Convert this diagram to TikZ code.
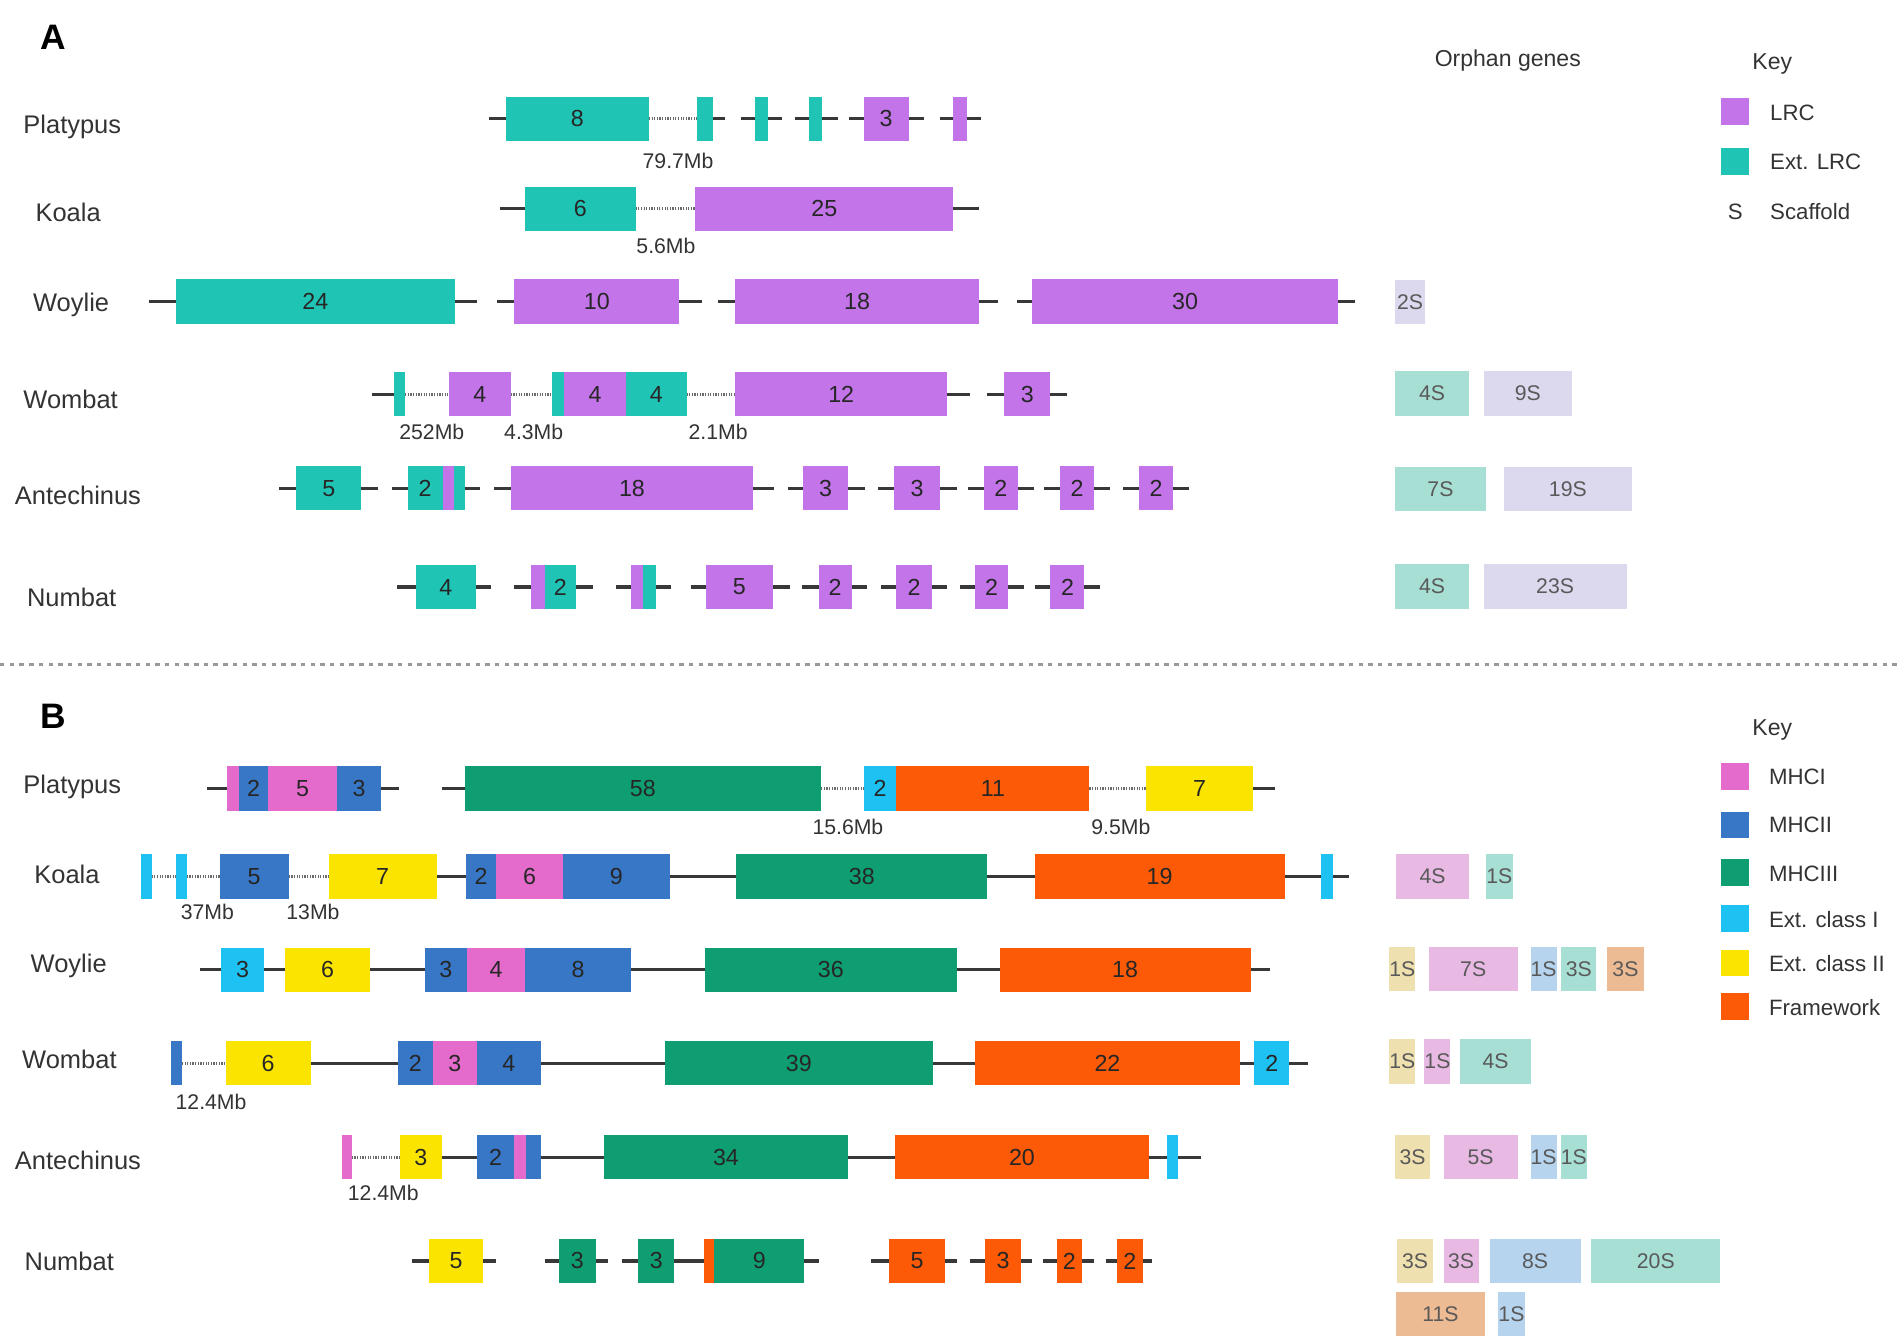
\documentclass[tikz,border=0pt]{standalone}
\usepackage{fontspec}
\setmainfont{Liberation Sans}
\definecolor{lrc}{HTML}{C274E8}
\definecolor{extlrc}{HTML}{1FC4B4}
\definecolor{mhci}{HTML}{E46BCB}
\definecolor{mhcii}{HTML}{3777C6}
\definecolor{mhciii}{HTML}{0E9E72}
\definecolor{extI}{HTML}{1DC2F2}
\definecolor{extII}{HTML}{FBE500}
\definecolor{frame}{HTML}{FC5A06}
\definecolor{oLav}{HTML}{DCD9EE}
\definecolor{oTeal}{HTML}{A7DFD4}
\definecolor{oPink}{HTML}{E8B9E3}
\definecolor{oTan}{HTML}{EFE0B0}
\definecolor{oBlue}{HTML}{B7D4EF}
\definecolor{oPeach}{HTML}{EDBB93}
\definecolor{ink}{HTML}{333333}
\newcommand\gn[6]{%
  \pgfmathsetmacro\gnw{(#4-#3)*0.6}%
  \pgfmathsetmacro\gnx{(#3+#4)/2}%
  \node[gene,fill=#2,minimum width=\gnw pt] (#1) at (\gnx,#5) {#6};}
\newcommand\orph[6]{%
  \pgfmathsetmacro\gnw{(#4-#3)*0.6}%
  \pgfmathsetmacro\gnx{(#3+#4)/2}%
  \node[orphbox,fill=#2,minimum width=\gnw pt] (#1) at (\gnx,#5) {#6};}
\newcommand\swatch[3]{\node[swbox,fill=#2] (#1) at (1430,#3) {};}
\newcommand\stL[2]{\draw[chr] (#1.west) -- ++(-#2,0);}
\newcommand\stR[2]{\draw[chr] (#1.east) -- ++(#2,0);}
\newcommand\jn[2]{\draw[chr] (#1.east) -- (#2.west);}
\newcommand\gp[2]{\draw[gapln] (#1.east) -- (#2.west);}
\begin{document}
\begin{tikzpicture}[x=0.6pt,y=-0.6pt,
  gene/.style={draw=none,inner sep=0pt,outer sep=0pt,minimum height=21.9pt,
    font=\fontsize{11.5}{11.5}\selectfont,text=black!85},
  orphbox/.style={draw=none,inner sep=0pt,outer sep=0pt,minimum height=21.9pt,
    font=\fontsize{10.5}{11}\selectfont,text=black!65},
  swbox/.style={draw=none,inner sep=0pt,outer sep=0pt,minimum width=13.8pt,minimum height=13.2pt},
  chr/.style={draw=black!78,line width=1.6pt},
  gapln/.style={draw=black!58,line width=1.6pt,dash pattern=on 0.6pt off 0.7pt},
  species/.style={font=\fontsize{12.6}{13}\selectfont,text=ink,anchor=base west,inner sep=0pt},
  mb/.style={font=\fontsize{10.5}{11}\selectfont,text=ink,inner sep=0pt},
  keytxt/.style={font=\fontsize{11}{12}\selectfont,text=ink,anchor=base west,inner sep=0pt},
  head/.style={font=\fontsize{11.4}{12}\selectfont,text=ink,anchor=base,inner sep=0pt},
  panel/.style={font=\fontsize{17.5}{18}\selectfont\bfseries,text=black,anchor=base west,inner sep=0pt},
  sep/.style={draw=black!40,line width=1.3pt,dash pattern=on 2.2pt off 2.6pt}]
\path[use as bounding box] (0,0) rectangle (1568,1101);

% ---------------- Panel A ----------------
\node[panel] (pA) at (33,41) {A};
\node[head] (orphA) at (1243,55) {Orphan genes};
\node[head] (keyA) at (1461,57) {Key};
\swatch{kLRC}{lrc}{92}
\swatch{kExtLRC}{extlrc}{133}
\node[keytxt] (tLRC) at (1459,99.5) {LRC};
\node[keytxt] (tExtLRC) at (1459,140) {Ext. LRC};
\node[keytxt] (tS) at (1424,181) {S};
\node[keytxt] (tScaf) at (1459,181) {Scaffold};

\node[species] (sA1) at (19,110) {Platypus};
\node[species] (sA2) at (29,183) {Koala};
\node[species] (sA3) at (27,257) {Woylie};
\node[species] (sA4) at (19,337) {Wombat};
\node[species] (sA5) at (12,416) {Antechinus};
\node[species] (sA6) at (22,500) {Numbat};

% Platypus A
\gn{aP8}{extlrc}{417}{535}{98}{8}
\gn{aPt1}{extlrc}{575}{588}{98}{}
\gn{aPt2}{extlrc}{622}{633}{98}{}
\gn{aPt3}{extlrc}{667}{678}{98}{}
\gn{aP3}{lrc}{712}{749}{98}{3}
\gn{aPp}{lrc}{786}{797}{98}{}
\stL{aP8}{14}\gp{aP8}{aPt1}\stR{aPt1}{10}
\stL{aPt2}{11}\stR{aPt2}{12}
\stL{aPt3}{12}\stR{aPt3}{13}
\stL{aP3}{12}\stR{aP3}{13}
\stL{aPp}{11}\stR{aPp}{12}
\node[mb] (mbA1) at (559,133) {79.7Mb};

% Koala A
\gn{aK6}{extlrc}{433}{524}{172}{6}
\gn{aK25}{lrc}{573}{786}{172}{25}
\stL{aK6}{21}\gp{aK6}{aK25}\stR{aK25}{21}
\node[mb] (mbA2) at (549,203) {5.6Mb};

% Woylie A
\gn{aW24}{extlrc}{145}{375}{248.5}{24}
\gn{aW10}{lrc}{424}{560}{248.5}{10}
\gn{aW18}{lrc}{606}{807}{248.5}{18}
\gn{aW30}{lrc}{851}{1103}{248.5}{30}
\stL{aW24}{22}\stR{aW24}{18}
\stL{aW10}{14}\stR{aW10}{19}
\stL{aW18}{14}\stR{aW18}{16}
\stL{aW30}{13}\stR{aW30}{14}
\orph{aWo1}{oLav}{1150}{1175}{249}{2S}

% Wombat A
\gn{aMt1}{extlrc}{325}{334}{325}{}
\gn{aM4}{lrc}{370}{421}{325}{4}
\gn{aMt2}{extlrc}{455}{465}{325}{}
\gn{aMp4}{lrc}{465}{516}{325}{4}
\gn{aMt4}{extlrc}{516}{566}{325}{4}
\gn{aM12}{lrc}{606}{781}{325}{12}
\gn{aM3}{lrc}{828}{866}{325}{3}
\stL{aMt1}{18}\gp{aMt1}{aM4}\gp{aM4}{aMt2}\gp{aMt4}{aM12}\stR{aM12}{19}
\stL{aM3}{14}\stR{aM3}{14}
\node[mb] (mbA3) at (356,356) {252Mb};
\node[mb] (mbA4) at (440,356) {4.3Mb};
\node[mb] (mbA5) at (592,356) {2.1Mb};
\orph{aMo1}{oTeal}{1150}{1211}{324.5}{4S}
\orph{aMo2}{oLav}{1223}{1296}{324.5}{9S}

% Antechinus A
\gn{aA5}{extlrc}{244}{298}{402.5}{5}
\gn{aA2}{extlrc}{336}{365}{402.5}{2}
\gn{aA2p}{lrc}{365}{374}{402.5}{}
\gn{aA2t}{extlrc}{374}{383}{402.5}{}
\gn{aA18}{lrc}{421}{621}{402.5}{18}
\gn{aA3a}{lrc}{662}{699}{402.5}{3}
\gn{aA3b}{lrc}{737}{775}{402.5}{3}
\gn{aA2a}{lrc}{811}{839}{402.5}{2}
\gn{aA2b}{lrc}{874}{902}{402.5}{2}
\gn{aA2c}{lrc}{939}{967}{402.5}{2}
\stL{aA5}{14}\stR{aA5}{14}
\stL{aA2}{13}\stR{aA2t}{13}
\stL{aA18}{14}\stR{aA18}{17}
\stL{aA3a}{12}\stR{aA3a}{14}
\stL{aA3b}{13}\stR{aA3b}{14}
\stL{aA2a}{13}\stR{aA2a}{13}
\stL{aA2b}{13}\stR{aA2b}{13}
\stL{aA2c}{13}\stR{aA2c}{13}
\orph{aAo1}{oTeal}{1150}{1225}{403}{7S}
\orph{aAo2}{oLav}{1240}{1345}{403}{19S}

% Numbat A
\gn{aN4}{extlrc}{343}{392}{484}{4}
\gn{aNp}{lrc}{438}{449}{484}{}
\gn{aNt}{extlrc}{449}{475}{484}{2}
\gn{aNp2}{lrc}{520}{530}{484}{}
\gn{aNt2}{extlrc}{530}{541}{484}{}
\gn{aN5}{lrc}{582}{637}{484}{5}
\gn{aN2a}{lrc}{675}{702}{484}{2}
\gn{aN2b}{lrc}{739}{768}{484}{2}
\gn{aN2c}{lrc}{804}{831}{484}{2}
\gn{aN2d}{lrc}{866}{894}{484}{2}
\stL{aN4}{16}\stR{aN4}{13}
\stL{aNp}{14}\stR{aNt}{14}
\stL{aNp2}{12}\stR{aNt2}{12}
\stL{aN5}{12}\stR{aN5}{14}
\stL{aN2a}{14}\stR{aN2a}{13}
\stL{aN2b}{13}\stR{aN2b}{13}
\stL{aN2c}{13}\stR{aN2c}{13}
\stL{aN2d}{13}\stR{aN2d}{13}
\orph{aNo1}{oTeal}{1150}{1211}{483.5}{4S}
\orph{aNo2}{oLav}{1223}{1341}{483.5}{23S}

% separator
\coordinate (sepL) at (0,548);
\coordinate (sepR) at (1568,548);
\draw[sep] (sepL) -- (sepR);

% ---------------- Panel B ----------------
\node[panel] (pB) at (33,600.5) {B};
\node[head] (keyB) at (1461,606) {Key};
\swatch{kI}{mhci}{640}
\swatch{kII}{mhcii}{680}
\swatch{kIII}{mhciii}{719.5}
\swatch{kEI}{extI}{757}
\swatch{kEII}{extII}{794}
\swatch{kFW}{frame}{830}
\node[keytxt] (tI) at (1458,646.5) {MHCI};
\node[keytxt] (tII) at (1458,686.5) {MHCII};
\node[keytxt] (tIII) at (1458,726.5) {MHCIII};
\node[keytxt] (tEI) at (1458,764.5) {Ext. class I};
\node[keytxt] (tEII) at (1458,800.5) {Ext. class II};
\node[keytxt] (tFW) at (1458,837.5) {Framework};

\node[species] (sB1) at (19,654.3) {Platypus};
\node[species] (sB2) at (28,728.5) {Koala};
\node[species] (sB3) at (25,801.5) {Woylie};
\node[species] (sB4) at (18,881) {Wombat};
\node[species] (sB5) at (12,964.5) {Antechinus};
\node[species] (sB6) at (20,1047.5) {Numbat};

% Platypus B
\gn{bPp}{mhci}{187}{197}{650}{}
\gn{bP2}{mhcii}{197}{221}{650}{2}
\gn{bP5}{mhci}{221}{278}{650}{5}
\gn{bP3}{mhcii}{278}{314}{650}{3}
\gn{bP58}{mhciii}{383}{677}{650}{58}
\gn{bPc}{extI}{712}{739}{650}{2}
\gn{bP11}{frame}{739}{898}{650}{11}
\gn{bP7}{extII}{945}{1033}{650}{7}
\stL{bPp}{16}\stR{bP3}{15}
\stL{bP58}{19}\gp{bP58}{bPc}\gp{bP11}{bP7}\stR{bP7}{18}
\node[mb] (mbB1) at (699,682) {15.6Mb};
\node[mb] (mbB2) at (924,682) {9.5Mb};

% Koala B
\gn{bKc1}{extI}{116}{125}{722.5}{}
\gn{bKc2}{extI}{145}{154}{722.5}{}
\gn{bK5}{mhcii}{181}{238}{722.5}{5}
\gn{bK7}{extII}{271}{360}{722.5}{7}
\gn{bK2}{mhcii}{384}{409}{722.5}{2}
\gn{bK6}{mhci}{409}{464}{722.5}{6}
\gn{bK9}{mhcii}{464}{552}{722.5}{9}
\gn{bK38}{mhciii}{607}{814}{722.5}{38}
\gn{bK19}{frame}{853}{1059}{722.5}{19}
\gn{bKc3}{extI}{1089}{1099}{722.5}{}
\gp{bKc1}{bKc2}\gp{bKc2}{bK5}\gp{bK5}{bK7}\jn{bK7}{bK2}
\jn{bK9}{bK38}\jn{bK38}{bK19}\jn{bK19}{bKc3}\stR{bKc3}{13}
\node[mb] (mbB3) at (171,752) {37Mb};
\node[mb] (mbB4) at (258,752) {13Mb};
\orph{bKo1}{oPink}{1151}{1211}{722.5}{4S}
\orph{bKo2}{oTeal}{1225}{1247}{722.5}{1S}

% Woylie B
\gn{bWc3}{extI}{182}{218}{799.5}{3}
\gn{bW6}{extII}{235}{305}{799.5}{6}
\gn{bW3}{mhcii}{350}{385}{799.5}{3}
\gn{bW4}{mhci}{385}{433}{799.5}{4}
\gn{bW8}{mhcii}{433}{520}{799.5}{8}
\gn{bW36}{mhciii}{581}{789}{799.5}{36}
\gn{bW18}{frame}{824}{1031}{799.5}{18}
\stL{bWc3}{17}\jn{bWc3}{bW6}\jn{bW6}{bW3}\jn{bW8}{bW36}\jn{bW36}{bW18}\stR{bW18}{16}
\orph{bWo1}{oTan}{1146}{1166}{799}{1S}
\orph{bWo2}{oPink}{1178}{1251}{799}{7S}
\orph{bWo3}{oBlue}{1262}{1283}{799}{1S}
\orph{bWo4}{oTeal}{1287}{1316}{799}{3S}
\orph{bWo5}{oPeach}{1325}{1355}{799}{3S}

% Wombat B
\gn{bMb}{mhcii}{141}{150}{876.5}{}
\gn{bM6}{extII}{186}{256}{876.5}{6}
\gn{bM2}{mhcii}{328}{357}{876.5}{2}
\gn{bM3}{mhci}{357}{393}{876.5}{3}
\gn{bM4}{mhcii}{393}{446}{876.5}{4}
\gn{bM39}{mhciii}{548}{769}{876.5}{39}
\gn{bM22}{frame}{804}{1022}{876.5}{22}
\gn{bMc}{extI}{1034}{1063}{876.5}{2}
\gp{bMb}{bM6}\jn{bM6}{bM2}\jn{bM4}{bM39}\jn{bM39}{bM22}\jn{bM22}{bMc}\stR{bMc}{15}
\node[mb] (mbB5) at (174,908) {12.4Mb};
\orph{bMo1}{oTan}{1146}{1166}{875}{1S}
\orph{bMo2}{oPink}{1175}{1195}{875}{1S}
\orph{bMo3}{oTeal}{1204}{1262}{875}{4S}

% Antechinus B
\gn{bAp}{mhci}{282}{290}{954}{}
\gn{bA3}{extII}{330}{364}{954}{3}
\gn{bA2}{mhcii}{393}{424}{954}{2}
\gn{bApp}{mhci}{424}{434}{954}{}
\gn{bAb}{mhcii}{434}{446}{954}{}
\gn{bA34}{mhciii}{498}{699}{954}{34}
\gn{bA20}{frame}{738}{947}{954}{20}
\gn{bAc}{extI}{962}{971}{954}{}
\gp{bAp}{bA3}\jn{bA3}{bA2}\jn{bAb}{bA34}\jn{bA34}{bA20}\jn{bA20}{bAc}\stR{bAc}{19}
\node[mb] (mbB6) at (316,983.5) {12.4Mb};
\orph{bAo1}{oTan}{1150}{1179}{954}{3S}
\orph{bAo2}{oPink}{1190}{1251}{954}{5S}
\orph{bAo3}{oBlue}{1262}{1283}{954}{1S}
\orph{bAo4}{oTeal}{1287}{1308}{954}{1S}

% Numbat B
\gn{bN5}{extII}{354}{398}{1039.5}{5}
\gn{bN3a}{mhciii}{461}{491}{1039.5}{3}
\gn{bN3b}{mhciii}{526}{556}{1039.5}{3}
\gn{bNo}{frame}{580}{589}{1039.5}{}
\gn{bN9}{mhciii}{589}{663}{1039.5}{9}
\gn{bN5o}{frame}{733}{779}{1039.5}{5}
\gn{bN3o}{frame}{812}{842}{1039.5}{3}
\gn{bN2a}{frame}{871}{892}{1039.5}{2}
\gn{bN2b}{frame}{921}{942}{1039.5}{2}
\stL{bN5}{14}\stR{bN5}{11}
\stL{bN3a}{12}\stR{bN3a}{10}
\stL{bN3b}{13}\jn{bN3b}{bNo}\stR{bN9}{12}
\stL{bN5o}{15}\stR{bN5o}{10}
\stL{bN3o}{12}\stR{bN3o}{9}
\stL{bN2a}{11}\stR{bN2a}{10}
\stL{bN2b}{9}\stR{bN2b}{8}
\orph{bNo1}{oTan}{1152}{1181}{1039.5}{3S}
\orph{bNo2}{oPink}{1190}{1219}{1039.5}{3S}
\orph{bNo3}{oBlue}{1228}{1303}{1039.5}{8S}
\orph{bNo4}{oTeal}{1312}{1418}{1039.5}{20S}
\orph{bNo5}{oPeach}{1151}{1224}{1083}{11S}
\orph{bNo6}{oBlue}{1235}{1257}{1083}{1S}
\end{tikzpicture}
\end{document}
